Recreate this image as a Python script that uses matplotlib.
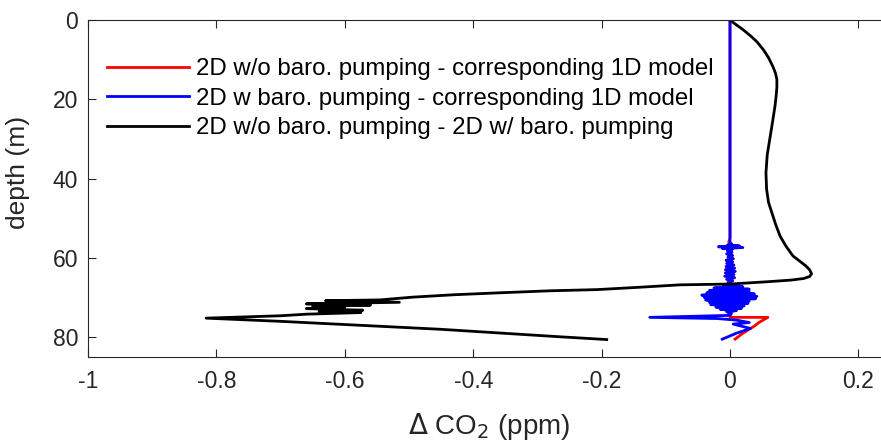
import matplotlib
matplotlib.use("Agg")
import matplotlib.pyplot as plt
from matplotlib.ticker import FixedLocator, FixedFormatter

plt.rcParams['font.family'] = ['Liberation Sans', 'DejaVu Sans']
plt.rcParams['axes.unicode_minus'] = False

# ---- data: (delta CO2 [ppm], depth [m]) ----
red_x = [0.0, 0.0, -0.002, 0.003, -0.004, 0.012, -0.014, 0.016, -0.010, 0.003,
         -0.004, 0.003, -0.005, 0.004, -0.003, 0.005, -0.006, 0.004, -0.005, 0.006,
         -0.006, 0.007, -0.007, 0.008, -0.007, 0.006, -0.008, 0.007, -0.005, 0.004,
         -0.003, 0.002, -0.010, 0.018, -0.022, 0.028, -0.030, 0.028, -0.034, 0.036,
         -0.040, 0.040, -0.038, 0.038, -0.036, 0.028, -0.030, 0.026, -0.028, 0.020,
         -0.020, 0.016, -0.014, 0.008, -0.004, 0.002, 0.0, 0.0, 0.059, 0.045,
         0.038, 0.020, 0.008]
red_d = [0.0, 55.0, 56.0, 56.5, 56.8, 57.0, 57.2, 57.4, 57.6, 57.8,
         58.2, 58.6, 59.0, 59.4, 59.8, 60.2, 60.6, 61.0, 61.4, 61.8,
         62.2, 62.6, 63.0, 63.4, 63.8, 64.2, 64.6, 65.0, 65.4, 65.8,
         66.2, 66.6, 67.0, 67.3, 67.6, 67.9, 68.2, 68.5, 68.8, 69.1,
         69.4, 69.7, 70.0, 70.3, 70.6, 70.9, 71.2, 71.5, 71.8, 72.1,
         72.4, 72.7, 73.0, 73.3, 73.6, 74.0, 74.5, 75.0, 75.0, 76.3,
         77.2, 79.0, 80.5]

blue_x = [0.0, 0.0, 0.002, -0.004, 0.015, -0.018, 0.020, -0.012, 0.004, -0.004,
          0.003, -0.005, 0.004, -0.003, 0.005, -0.006, 0.004, -0.005, 0.006, -0.006,
          0.007, -0.007, 0.008, -0.007, 0.006, -0.008, 0.007, -0.005, 0.004, -0.003,
          0.002, -0.010, 0.020, -0.025, 0.030, -0.032, 0.030, -0.036, 0.038, -0.044,
          0.042, -0.040, 0.040, -0.038, 0.030, -0.032, 0.028, -0.030, 0.022, -0.022,
          0.018, -0.015, 0.010, -0.005, 0.002, 0.0, -0.125, -0.020, 0.010, 0.030,
          0.005, 0.032, 0.010, -0.012]
blue_d = [0.0, 56.0, 56.5, 56.8, 57.0, 57.2, 57.4, 57.6, 57.8, 58.2,
          58.6, 59.0, 59.4, 59.8, 60.2, 60.6, 61.0, 61.4, 61.8, 62.2,
          62.6, 63.0, 63.4, 63.8, 64.2, 64.6, 65.0, 65.4, 65.8, 66.2,
          66.6, 67.0, 67.3, 67.6, 67.9, 68.2, 68.5, 68.8, 69.1, 69.4,
          69.7, 70.0, 70.3, 70.6, 70.9, 71.2, 71.5, 71.8, 72.1, 72.4,
          72.7, 73.0, 73.3, 73.6, 74.0, 74.5, 75.0, 75.3, 75.7, 76.3,
          76.7, 77.8, 79.0, 80.5]

black_x = [0.0, 0.008, 0.020, 0.032, 0.042, 0.052, 0.060, 0.067, 0.071, 0.073,
           0.073, 0.072, 0.070, 0.066, 0.062, 0.058, 0.056, 0.057, 0.060, 0.065,
           0.071, 0.078, 0.087, 0.098, 0.110, 0.118, 0.124, 0.127, 0.124, 0.115,
           0.095, 0.060, 0.020, 0.0,
           -0.078, -0.140, -0.207, -0.280, -0.358, -0.430, -0.494, -0.545, -0.630, -0.515,
           -0.660, -0.560, -0.650, -0.600, -0.660, -0.572, -0.640, -0.575, -0.660, -0.700,
           -0.816, -0.701, -0.452, -0.265, -0.192]
black_d = [0.0, 1.0, 2.4, 4.0, 5.5, 7.5, 9.5, 11.8, 13.5, 15.0,
           17.0, 19.0, 21.8, 26.0, 30.0, 34.0, 38.5, 42.7, 46.0, 48.5,
           51.5, 54.5, 57.0, 59.5, 61.0, 62.0, 63.0, 64.0, 64.7, 65.2,
           65.6, 66.0, 66.4, 66.6,
           66.8, 67.4, 68.0, 68.3, 68.8, 69.3, 69.9, 70.6, 70.8, 71.2,
           71.6, 71.9, 72.2, 72.5, 72.8, 73.2, 73.5, 73.8, 74.2, 74.6,
           75.2, 76.0, 78.0, 79.9, 80.6]

labels = ["2D w/o baro. pumping - corresponding 1D model",
          "2D w baro. pumping - corresponding 1D model",
          "2D w/o baro. pumping - 2D w/ baro. pumping"]

xticks = [-1, -0.8, -0.6, -0.4, -0.2, 0, 0.2]
xticklabels = ["-1", "-0.8", "-0.6", "-0.4", "-0.2", "0", "0.2"]
yticks = [0, 20, 40, 60, 80]
yticklabels = ["0", "20", "40", "60", "80"]

fig = plt.figure(figsize=(8.81, 4.46), dpi=100)
W, H = 881, 446
AX_W = 890.5 - 88
AX_H = 357 - 20
ax = fig.add_axes([88 / W, 1 - 357 / H, AX_W / W, AX_H / H])

lw = 2.0
ax.plot(red_x, red_d, color=(1, 0, 0), lw=lw, label=labels[0])
ax.plot(blue_x, blue_d, color=(0, 0, 1), lw=lw, label=labels[1])
ax.plot(black_x, black_d, color=(0, 0, 0), lw=lw, label=labels[2])

ax.set_xlim(-1, 0.25)
ax.set_ylim(85, 0)

gray = (0.15, 0.15, 0.15)
for s in ax.spines.values():
    s.set_color(gray)
    s.set_linewidth(0.8)

ax.xaxis.set_major_locator(FixedLocator(xticks))
ax.xaxis.set_major_formatter(FixedFormatter(xticklabels))
ax.yaxis.set_major_locator(FixedLocator(yticks))
ax.yaxis.set_major_formatter(FixedFormatter(yticklabels))
ax.tick_params(direction='in', length=6, width=0.8, color=gray, labelcolor=gray,
               labelsize=16.5, top=True, right=True)
ax.tick_params(axis='x', pad=9)
ax.tick_params(axis='y', pad=7)

ax.set_xlabel(r"$\Delta$ CO$_2$ (ppm)", fontsize=20, color=gray)
ax.xaxis.set_label_coords(0.5, (357 - 411) / AX_H)
ax.set_ylabel("depth (m)", fontsize=19, color=gray)
ax.yaxis.set_label_coords((30 - 88) / AX_W, (357 - 172) / AX_H)

ax.legend(loc='upper left', bbox_to_anchor=((107 - 88) / AX_W, (357 - 58) / AX_H),
          frameon=False, fontsize=17.3, handlelength=3.4, handletextpad=0.3,
          labelspacing=0.32, borderpad=0, borderaxespad=0)

fig.savefig("out.png", dpi=100)
